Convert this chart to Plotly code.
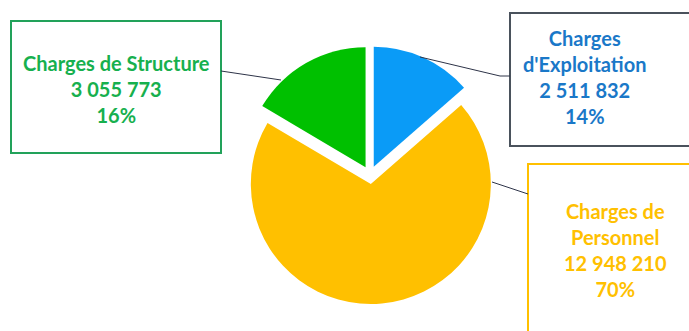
import plotly.graph_objects as go

# ---- data ----
categories = ["Charges d'Exploitation", "Charges de Personnel", "Charges de Structure"]
label_lines = [["Charges", "d'Exploitation"], ["Charges de", "Personnel"], ["Charges de Structure"]]
values = [2511832, 12948210, 3055773]
value_labels = ["2 511 832", "12 948 210", "3 055 773"]
pct_labels = ["14%", "70%", "16%"]

slice_colors = ["#0A9BF7", "#FFC000", "#00C000"]
text_colors = ["#1A78C8", "#FFC000", "#17B04E"]
box_colors = ["#4A525C", "#FFC000", "#22A25A"]

W, H = 689, 331

def px(x):
    return x / W

def py(y):
    return 1 - y / H

fig = go.Figure()

cx, cy, half = 370, 175, 129
fig.add_trace(go.Pie(
    labels=categories,
    values=values,
    marker=dict(colors=slice_colors, line=dict(width=0)),
    sort=False,
    direction="clockwise",
    rotation=0,
    pull=[0.075, 0.075, 0.075],
    textinfo="none",
    showlegend=False,
    domain=dict(x=[px(cx - half), px(cx + half)], y=[py(cy + half), py(cy - half)]),
))

# label boxes (pixel coords: x0, y0, x1, y1)
boxes = [(510, 13, 700, 146), (528, 164, 700, 340), (11, 21, 221, 153)]
text_centers = [(585, 77), (615, 250), (116, 89)]
leaders = [
    [(420, 57), (500, 76), (510, 76)],
    [(492, 182), (528, 194)],
    [(281, 80), (221, 71)],
]

shapes = []
annotations = []
for i in range(len(categories)):
    x0, y0, x1, y1 = boxes[i]
    shapes.append(dict(type="rect", xref="paper", yref="paper",
                       x0=px(x0), x1=px(x1), y0=py(y1), y1=py(y0),
                       line=dict(color=box_colors[i], width=2), fillcolor="rgba(255,255,255,0)"))
    pts = leaders[i]
    for a, b in zip(pts[:-1], pts[1:]):
        shapes.append(dict(type="line", xref="paper", yref="paper",
                           x0=px(a[0]), y0=py(a[1]), x1=px(b[0]), y1=py(b[1]),
                           line=dict(color="#2E3448", width=1)))
    text = "<br>".join(label_lines[i] + [value_labels[i], pct_labels[i]])
    tx, ty = text_centers[i]
    annotations.append(dict(xref="paper", yref="paper", x=px(tx), y=py(ty),
                            xanchor="center", yanchor="middle", showarrow=False,
                            text="<b>" + text + "</b>", align="center",
                            font=dict(family="Lato", size=20, color=text_colors[i])))

fig.update_layout(
    width=W, height=H, autosize=False,
    margin=dict(l=0, r=0, t=0, b=0),
    paper_bgcolor="white", plot_bgcolor="white",
    shapes=shapes, annotations=annotations,
)

fig.write_html("out.html", config={"displayModeBar": False},
               post_script="document.body.style.margin='0';document.body.style.overflow='hidden';")
